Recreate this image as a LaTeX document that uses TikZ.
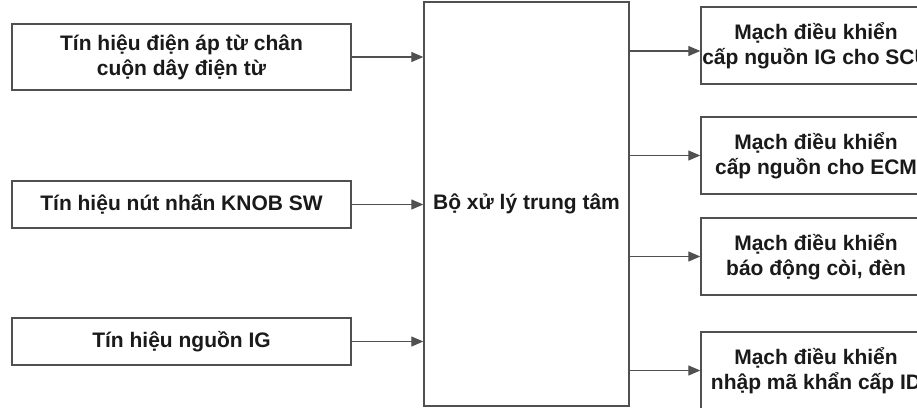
\documentclass[tikz,border=0pt]{standalone}
\usepackage{fontspec}
\setmainfont{Liberation Sans}
\usetikzlibrary{arrows.meta}

\definecolor{linegray}{HTML}{505050}
\definecolor{textgray}{HTML}{1A1A1A}

\tikzset{
  block/.style={draw=linegray, line width=1.4pt, fill=white, align=center,
    text=textgray, font=\bfseries\fontsize{21}{25}\selectfont, inner sep=0pt},
  inbox/.style={block, minimum width=339pt},
  outbox/.style={block, minimum width=230pt, minimum height=77pt},
  link/.style={draw=linegray, line width=1.2pt, -{Triangle[length=12pt,width=10pt]}}
}

\begin{document}
\begin{tikzpicture}[x=1pt,y=-1pt]

  \useasboundingbox (0,0) rectangle (917,407);

  \node[inbox, minimum height=66pt] (l1) at (181.5,57) {Tín hiệu điện áp từ chân\\cuộn dây điện từ};
  \node[inbox, minimum height=47pt] (l2) at (181.5,204.5) {Tín hiệu nút nhấn KNOB SW};
  \node[inbox, minimum height=47pt] (l3) at (181.5,341.5) {Tín hiệu nguồn IG};

  \node[block, minimum width=205pt, minimum height=404pt] (cpu) at (526.5,204) {Bộ xử lý trung tâm};

  \node[outbox] (r1) at (816,45.5) {Mạch điều khiển\\cấp nguồn IG cho SCU};
  \node[outbox] (r2) at (816,155.5) {Mạch điều khiển\\cấp nguồn cho ECM};
  \node[outbox] (r3) at (816,256.5) {Mạch điều khiển\\báo động còi, đèn};
  \node[outbox] (r4) at (816,370.5) {Mạch điều khiển\\nhập mã khẩn cấp ID};

  \draw[link] (l1.east) -- (l1.east -| cpu.west);
  \draw[link] (l2.east) -- (l2.east -| cpu.west);
  \draw[link] (l3.east) -- (l3.east -| cpu.west);

  \draw[link] ([yshift=-5.5pt]cpu.east |- r1.west) -- ([yshift=-5.5pt]r1.west);
  \draw[link] (cpu.east |- r2.west) -- (r2.west);
  \draw[link] (cpu.east |- r3.west) -- (r3.west);
  \draw[link] (cpu.east |- r4.west) -- (r4.west);

\end{tikzpicture}
\end{document}
